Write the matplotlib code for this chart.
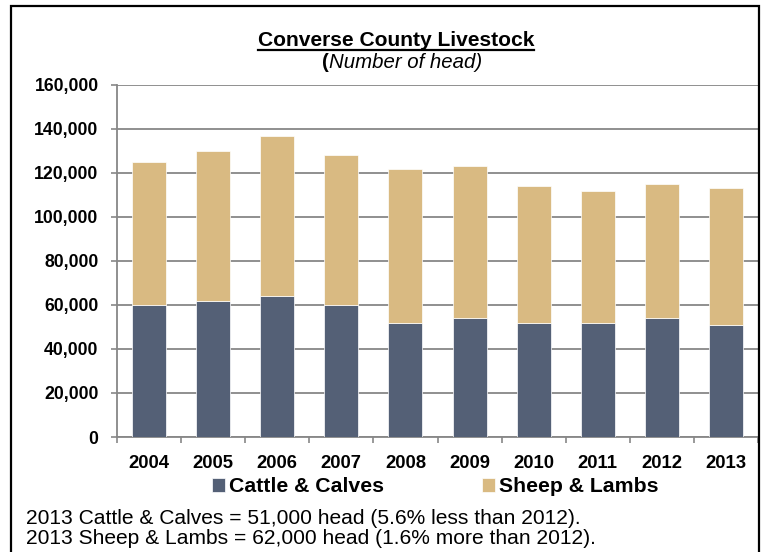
import matplotlib
matplotlib.use("Agg")
import matplotlib.pyplot as plt
from matplotlib.patches import Rectangle
import numpy as np

plt.rcParams['font.family'] = ['Liberation Sans', 'DejaVu Sans']

# data
years = ['2004', '2005', '2006', '2007', '2008', '2009', '2010', '2011', '2012', '2013']
cattle = [60000, 62000, 64000, 60000, 52000, 54000, 52000, 52000, 54000, 51000]
sheep = [65000, 68000, 73000, 68000, 70000, 69000, 62000, 60000, 61000, 62000]
yticks = [0, 20000, 40000, 60000, 80000, 100000, 120000, 140000, 160000]
notes = ['2013 Cattle & Calves = 51,000 head (5.6% less than 2012).',
         '2013 Sheep & Lambs = 62,000 head (1.6% more than 2012).']

cattle_col = '#546076'
sheep_col = '#D9BA82'
grid_col = '#878787'

W, H = 764, 552
fig = plt.figure(figsize=(W / 100, H / 100), dpi=100)
renderer = fig.canvas.get_renderer()


def fit(t, width_px):
    # scale font so the text is about width_px wide
    w = t.get_window_extent(renderer).width
    t.set_fontsize(t.get_fontsize() * width_px / w)


# plot area in pixels: x 117..758, y 85..437 (from top)
ax = fig.add_axes([117 / W, 1 - 437 / H, (758 - 117) / W, (437 - 85) / H])

x = np.arange(len(years))
ax.bar(x, cattle, width=0.53, color=cattle_col, edgecolor='white', linewidth=0.5,
       label='Cattle & Calves', zorder=3)
ax.bar(x, sheep, bottom=cattle, width=0.53, color=sheep_col, edgecolor='white',
       linewidth=0.5, label='Sheep & Lambs', zorder=3)

ax.set_xlim(-0.5, len(years) - 0.5)
ax.set_ylim(0, 160000)
ax.set_yticks(yticks)
ax.set_yticklabels([f'{v:,}' for v in yticks], fontsize=12.7, fontweight='bold')
ax.yaxis.grid(True, color=grid_col, linewidth=1.3, zorder=0)
ax.set_axisbelow(True)

# category labels sit between the boundary ticks
ax.set_xticks(np.arange(len(years) + 1) - 0.5)
ax.set_xticklabels([])
ax.set_xticks(x, minor=True)
ax.set_xticklabels(years, minor=True, fontsize=13.3, fontweight='bold')
ax.tick_params(axis='x', which='minor', length=0, pad=13)
ax.tick_params(axis='x', which='major', length=4.5, color=grid_col, width=1.2)
ax.tick_params(axis='y', length=4.3, color=grid_col, width=1.2, pad=9)

for s in ['top', 'right']:
    ax.spines[s].set_visible(False)
for s in ['left', 'bottom']:
    ax.spines[s].set_color(grid_col)
    ax.spines[s].set_linewidth(1.3)

# title with underline
title = fig.text(396 / W, 1 - 40 / H, 'Converse County Livestock', ha='center',
                 va='center', fontsize=15, fontweight='bold')
fit(title, 278)
bb = title.get_window_extent(renderer)
fig.add_artist(plt.Line2D([bb.x0 / W, bb.x1 / W], [(bb.y0 - 0.5) / H, (bb.y0 - 0.5) / H],
                          color='black', linewidth=1.6, transform=fig.transFigure))
p1 = fig.text(322 / W, 1 - 63 / H, '(', ha='left', va='center', fontsize=14.8,
              fontweight='bold')
p2 = fig.text(329 / W, 1 - 63 / H, 'Number of head)', ha='left', va='center',
              fontsize=14.8, style='italic')
fit(p2, 153)

# legend
leg = fig.legend(loc='center', bbox_to_anchor=(435 / W, 1 - 487 / H), ncol=2,
                 frameon=False, handlelength=0.62, handleheight=0.62,
                 handletextpad=0.19, columnspacing=4.6, prop={'weight': 'bold', 'size': 15.3})

# footnotes
n1 = fig.text(26 / W, 1 - 518 / H, notes[0], ha='left', va='center', fontsize=15)
n2 = fig.text(26 / W, 1 - 539 / H, notes[1], ha='left', va='center', fontsize=15)
fit(n1, 557)
n2.set_fontsize(n1.get_fontsize())

# outer frame
fig.add_artist(Rectangle((11 / W, -0.05), (759 - 11) / W, 1 - 6 / H + 0.05,
                         transform=fig.transFigure, fill=False, edgecolor='black',
                         linewidth=1.6))

fig.savefig('out.png', dpi=100)
